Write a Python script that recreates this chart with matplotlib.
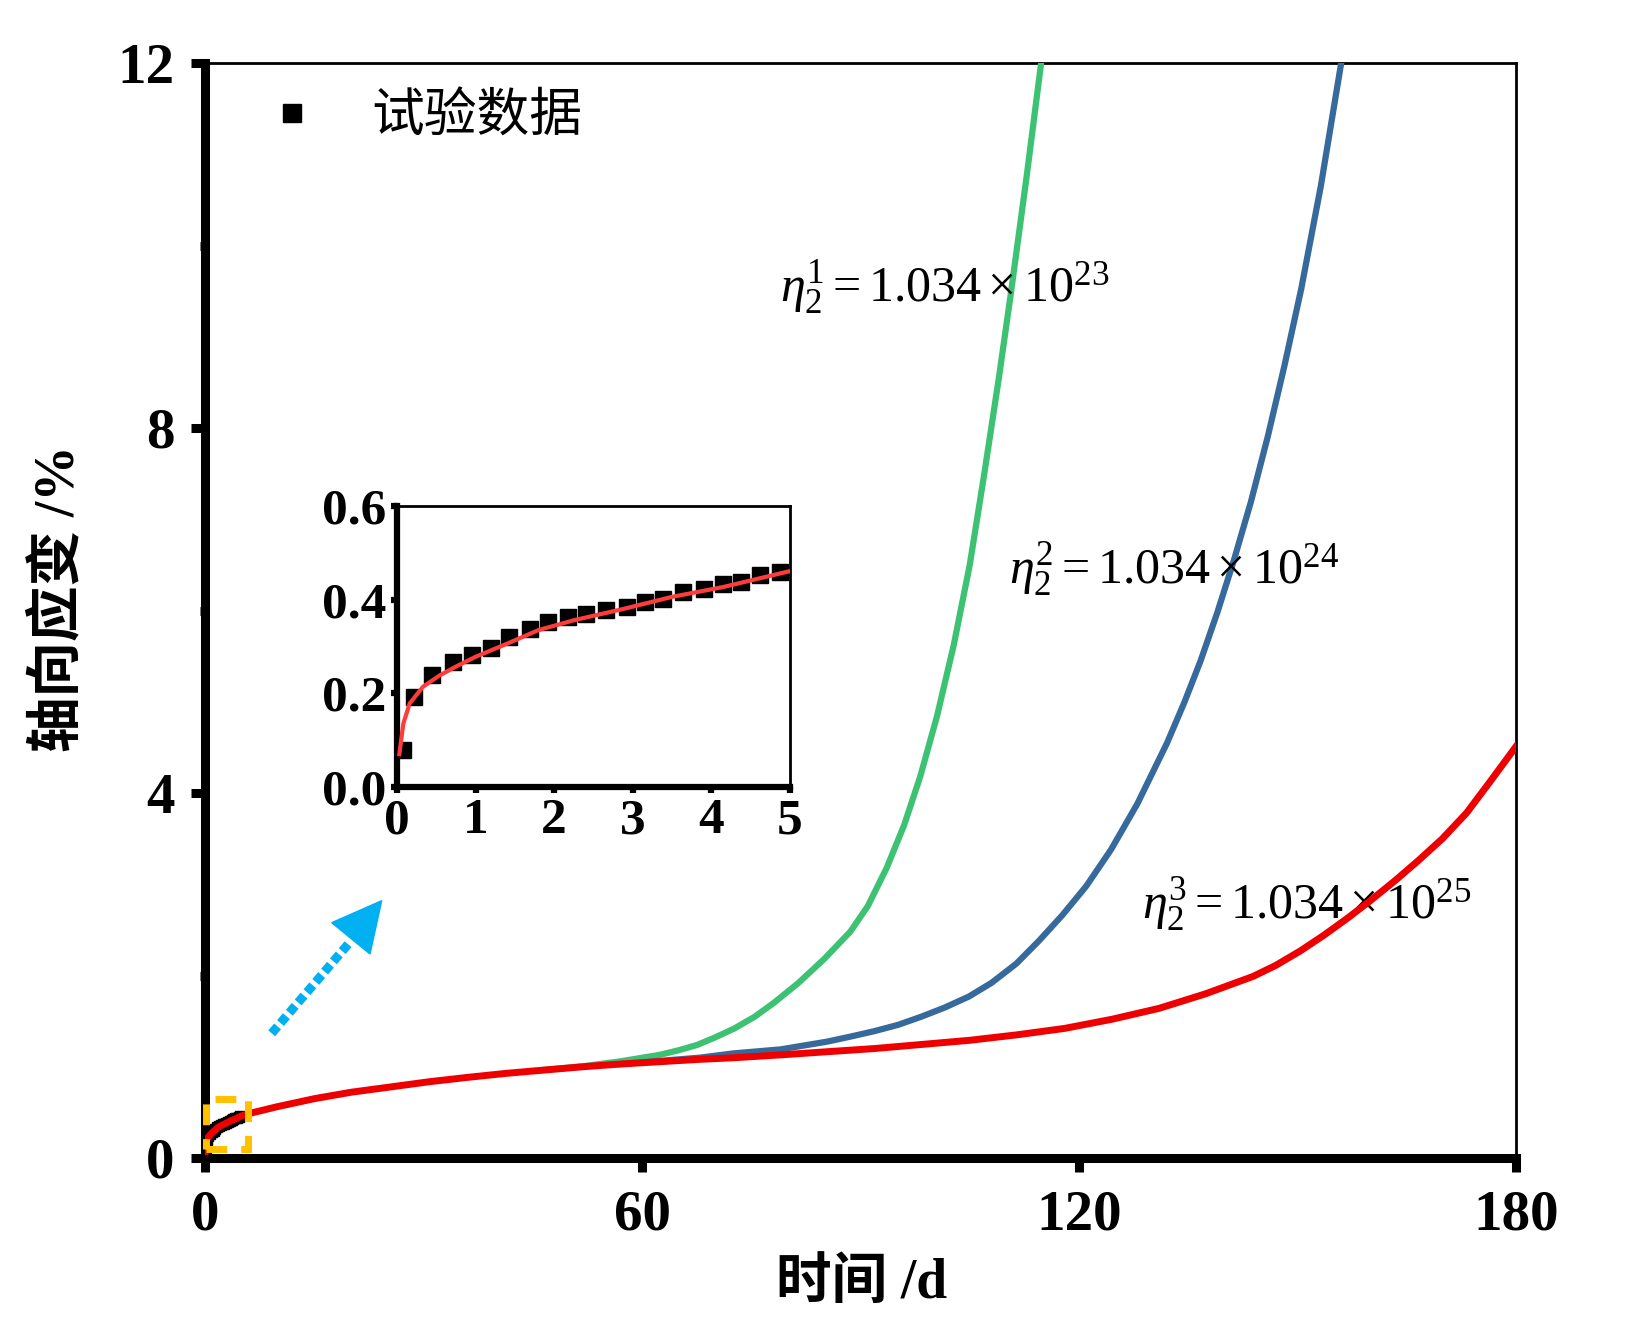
import matplotlib
matplotlib.use('Agg')
import matplotlib.pyplot as plt
from matplotlib.lines import Line2D
from matplotlib.patches import Rectangle, Polygon

plt.rcParams['mathtext.fontset'] = 'custom'
plt.rcParams['mathtext.rm'] = 'Liberation Serif'
plt.rcParams['mathtext.it'] = 'Liberation Serif:italic'
plt.rcParams['mathtext.bf'] = 'Liberation Serif:bold'

# test data (inset, first 5 days)
test_t = [0.08, 0.21, 0.45, 0.71, 0.95, 1.2, 1.43, 1.69, 1.92, 2.18, 2.41,
          2.66, 2.92, 3.15, 3.39, 3.64, 3.9, 4.15, 4.38, 4.62, 4.87]
test_eps = [0.078, 0.192, 0.24, 0.267, 0.281, 0.297, 0.32, 0.338, 0.352, 0.363,
            0.37, 0.377, 0.384, 0.395, 0.402, 0.416, 0.423, 0.434, 0.438, 0.452, 0.459]

# model curve eta3 (red), also used in inset
red_t = [0.03, 0.08, 0.16, 0.33, 0.54, 0.76, 1.0, 1.4, 1.8, 2.25, 2.9, 3.5, 4.15, 5.0,
         6.2, 9.8, 15, 20, 25.6, 30.8, 36.1, 41.4, 46.6, 51.9, 57.1, 62.4, 67.6,
         72.9, 79, 85.5, 92, 98.5, 105, 111.5, 118, 124.5, 131, 137.4, 143.9, 147,
         150.4, 153.6, 156.9, 160, 163.4, 166.6, 169.9, 173.2, 176.4, 180]
red_eps = [0.07, 0.135, 0.178, 0.214, 0.238, 0.258, 0.278, 0.306, 0.335, 0.356, 0.381,
           0.406, 0.427, 0.461, 0.49, 0.56, 0.65, 0.72, 0.78, 0.836, 0.884, 0.928,
           0.964, 1.0, 1.03, 1.055, 1.08, 1.10, 1.13, 1.165, 1.20, 1.245, 1.29, 1.35,
           1.42, 1.52, 1.64, 1.80, 1.99, 2.11, 2.27, 2.44, 2.63, 2.82, 3.04, 3.26,
           3.50, 3.78, 4.12, 4.51]

# eta1 (green)
green_t = [46.6, 51.9, 54.2, 57.1, 62.4, 65, 67.6, 70, 72.7, 75.5, 78.1, 81.5, 85.0,
           88.6, 91, 93.6, 96, 98.2, 100.5, 102.8, 105, 107.0, 109, 110.6, 112.8, 114.8]
green_eps = [0.965, 1.005, 1.03, 1.06, 1.13, 1.18, 1.24, 1.32, 1.42, 1.55, 1.70, 1.92,
             2.18, 2.48, 2.76, 3.18, 3.65, 4.18, 4.84, 5.62, 6.5, 7.5, 8.55, 9.45,
             10.75, 12.0]

# eta2 (blue)
blue_t = [57.1, 63.4, 68, 72.5, 79, 85.4, 88.6, 91.9, 95.2, 98.4, 101.6, 104.9, 108,
          111.4, 114.5, 117.7, 121, 124.4, 128, 132.1, 134.5, 136.7, 139, 141.3, 143.6,
          145.9, 148.2, 150.5, 153.2, 156.0]
blue_eps = [1.03, 1.07, 1.10, 1.146, 1.19, 1.275, 1.33, 1.39, 1.46, 1.55, 1.65, 1.77,
            1.92, 2.13, 2.38, 2.66, 2.98, 3.38, 3.88, 4.55, 5.0, 5.45, 5.98, 6.56,
            7.19, 7.9, 8.68, 9.52, 10.65, 12.0]

W, H = 1648, 1342
fig = plt.figure(figsize=(W / 100, H / 100), dpi=100)
ax = fig.add_axes([205 / W, 1 - 1158 / H, 1311 / W, 1095 / H])

mixed = ['Liberation Serif', 'Noto Sans CJK SC']

ax.plot(test_t, test_eps, 's', color='black', ms=7, zorder=2)
ax.plot(green_t, green_eps, color='#3dc274', lw=4.5, zorder=3, solid_joinstyle='round')
ax.plot(blue_t, blue_eps, color='#366a9c', lw=4.5, zorder=3, solid_joinstyle='round')
ax.plot(red_t, red_eps, color='#ee0000', lw=5, zorder=4, solid_joinstyle='round')

ax.set_xlim(0, 180)
ax.set_ylim(0, 12)
ax.set_xticks([0, 60, 120, 180])
ax.set_yticks([0, 4, 8, 12])
ax.set_yticks([2, 6, 10], minor=True)
ax.tick_params(axis='both', which='major', direction='out', length=10, width=6.5,
               labelsize=41)
ax.tick_params(axis='x', which='major', pad=13)
ax.tick_params(axis='y', which='major', pad=12)
ax.tick_params(axis='y', which='minor', direction='out', length=3.5, width=6.5)
for lab in ax.get_xticklabels() + ax.get_yticklabels():
    lab.set_fontfamily('Liberation Serif')
    lab.set_fontweight('bold')
for s in ['left', 'bottom']:
    ax.spines[s].set_linewidth(6.5)
for s in ['top', 'right']:
    ax.spines[s].set_linewidth(2)

# zoom box
ax.add_patch(Rectangle((0.1, 0.1), 5.8, 0.55, fill=False, ec='#ffc000', lw=5,
                       ls=(0, (3, 2)), zorder=6, clip_on=False))

# arrow toward inset
fig.add_artist(Line2D([271.7 / W, 350 / W], [1 - 1033.3 / H, 1 - 942 / H],
                      color='#00b0f0', lw=6.5, ls=(0, (1, 0.5)),
                      solid_capstyle='butt', dash_capstyle='butt'))
fig.add_artist(Polygon([[331.7 / W, 1 - 922.7 / H], [381.7 / W, 1 - 900.7 / H],
                        [370 / W, 1 - 954 / H]], closed=True, color='#00b0f0'))

# labels of curves
ax.text(79, 9.37, r'$\eta_2^1=1.034\times10^{23}$', fontsize=36, ha='left', va='baseline')
ax.text(110.4, 6.28, r'$\eta_2^2=1.034\times10^{24}$', fontsize=36, ha='left', va='baseline')
ax.text(128.6, 2.62, r'$\eta_2^3=1.034\times10^{25}$', fontsize=36, ha='left', va='baseline')

# legend
h = Line2D([], [], marker='s', ls='none', color='black', ms=13)
leg = ax.legend([h], ['试验数据'], loc='center left', bbox_to_anchor=(0.01, 0.95),
                frameon=False, handlelength=1, handletextpad=1.0,
                prop={'family': mixed, 'size': 38})

fig.text(862 / W, 1 - 1284 / H, '时间 /d', family=mixed, weight='bold', fontsize=40,
         ha='center', va='center')
fig.text(58 / W, 1 - 599 / H, '轴向应变 /%', family=mixed, weight='bold', fontsize=40,
         ha='center', va='center', rotation=90)

# inset
ax2 = fig.add_axes([397 / W, 1 - 787 / H, 393 / W, 281 / H])
ax2.plot(test_t, test_eps, 's', color='black', ms=11, zorder=2)
ax2.plot(red_t, red_eps, color='#ff3b3b', lw=3, zorder=3)
ax2.set_xlim(0, 5)
ax2.set_ylim(0, 0.6)
ax2.set_xticks([0, 1, 2, 3, 4, 5])
ax2.set_yticks([0, 0.2, 0.4, 0.6])
ax2.set_yticklabels(['0.0', '0.2', '0.4', '0.6'])
ax2.tick_params(direction='out', length=4, width=4.5, labelsize=37, pad=4)
for lab in ax2.get_xticklabels() + ax2.get_yticklabels():
    lab.set_fontfamily('Liberation Serif')
    lab.set_fontweight('bold')
for s in ['left', 'bottom']:
    ax2.spines[s].set_linewidth(4.5)
for s in ['top', 'right']:
    ax2.spines[s].set_linewidth(2)

fig.savefig('out.png', dpi=100)
